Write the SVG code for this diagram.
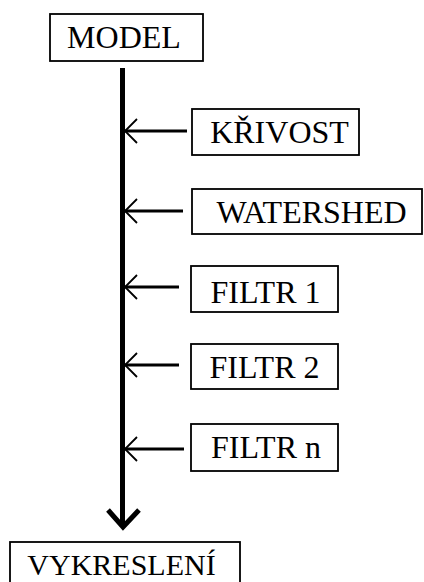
<svg xmlns="http://www.w3.org/2000/svg" width="424" height="582" viewBox="0 0 424 582">
<style>
.box{fill:#fff;stroke:#000;stroke-width:1.8}
.lbl{font-family:"Liberation Serif","Times New Roman",serif;font-size:32px;fill:#000;text-anchor:middle}
.feed{stroke:#000;stroke-width:3;fill:none}
.main{stroke:#000;stroke-width:5;fill:none}
</style>
<defs>
<marker id="chev" markerUnits="userSpaceOnUse" viewBox="-2 -14 16 28" markerWidth="16" markerHeight="28" refX="0" refY="0" orient="auto" overflow="visible">
<path d="M13 -12L1 0L13 12" fill="none" stroke="#000" stroke-width="1.8"/>
</marker>
</defs>
<rect width="424" height="582" fill="#fff"/>
<g id="connectors">
<path class="main" d="M122.5 68V527"/>
<path d="M108 510L123 527L139 510" fill="none" stroke="#000" stroke-width="5"/>
<line class="feed" x1="124" y1="131" x2="187" y2="131" marker-start="url(#chev)"/>
<line class="feed" x1="124" y1="211" x2="183" y2="211" marker-start="url(#chev)"/>
<line class="feed" x1="124" y1="287" x2="179" y2="287" marker-start="url(#chev)"/>
<line class="feed" x1="124" y1="365" x2="179" y2="365" marker-start="url(#chev)"/>
<line class="feed" x1="124" y1="449" x2="184" y2="449" marker-start="url(#chev)"/>
</g>
<g id="model"><rect class="box" x="50" y="14" width="153" height="47"/><text class="lbl" x="124" y="47.5">MODEL</text></g>
<g id="krivost"><rect class="box" x="192" y="109" width="167" height="46"/><text class="lbl" x="279.5" y="143">KŘIVOST</text></g>
<g id="watershed"><rect class="box" x="192" y="189" width="230" height="45"/><text class="lbl" x="311.5" y="223">WATERSHED</text></g>
<g id="filtr1"><rect class="box" x="191" y="266" width="147" height="46"/><text class="lbl" x="265.5" y="302.5">FILTR 1</text></g>
<g id="filtr2"><rect class="box" x="191" y="344" width="147" height="45"/><text class="lbl" x="264.5" y="377.5">FILTR 2</text></g>
<g id="filtrn"><rect class="box" x="191" y="424" width="147" height="47"/><text class="lbl" x="266" y="457.5">FILTR n</text></g>
<g id="vykresleni"><rect class="box" x="10" y="542" width="230" height="50"/><text class="lbl" x="121.5" y="574.5" style="font-size:30px">VYKRESLENÍ</text></g>
</svg>
